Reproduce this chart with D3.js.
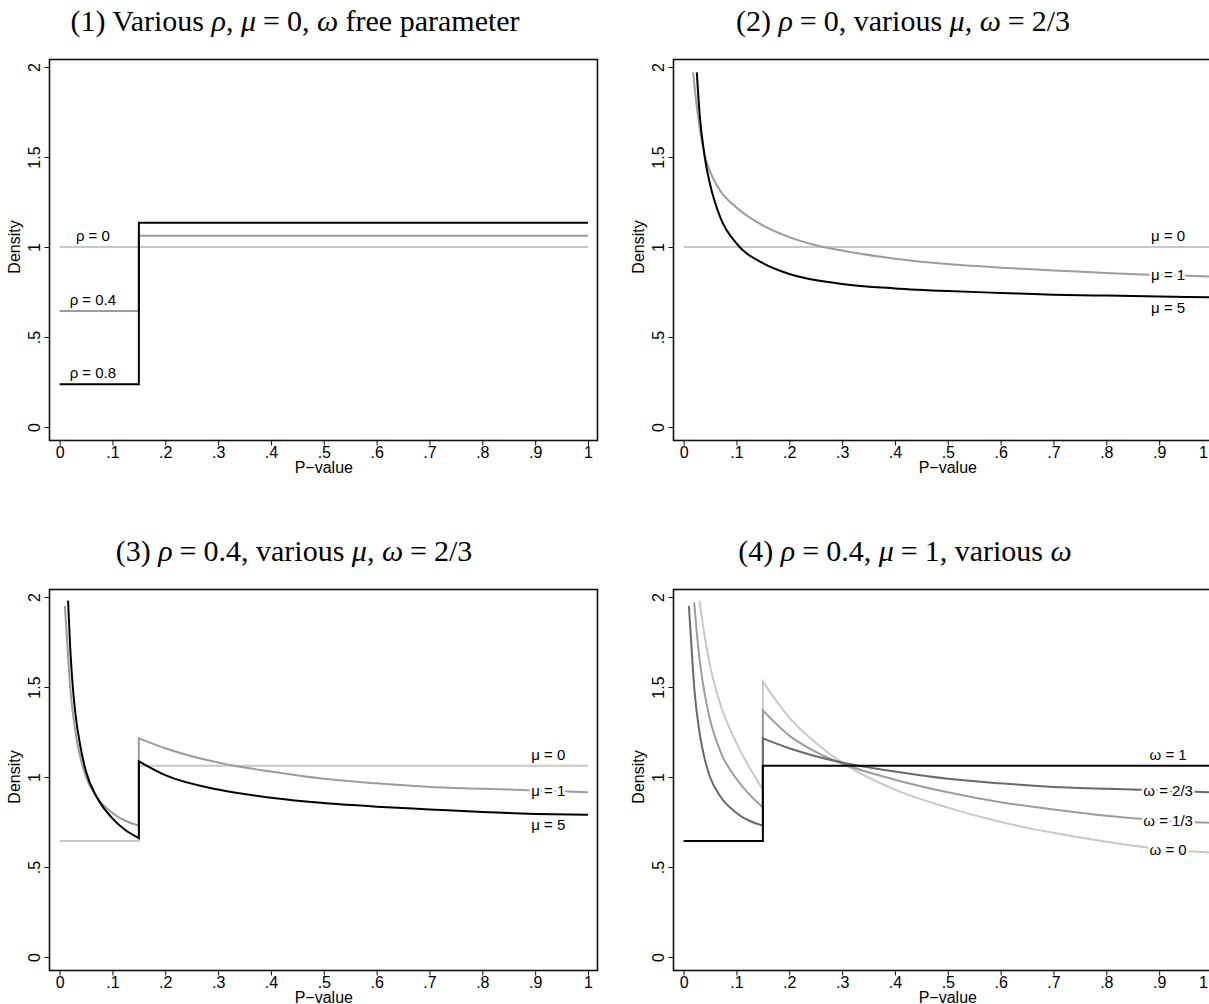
<!DOCTYPE html>
<html>
<head>
<meta charset="utf-8">
<script src="https://cdn.jsdelivr.net/npm/d3@7"></script>
<style>
  body { margin: 0; background: #fff; }
  svg { display: block; }
  .title { font-family: "Liberation Serif", "DejaVu Serif", serif; font-size: 26px; }
  .tick-label, .axis-title { font-family: "Liberation Sans", Arial, sans-serif; font-size: 16px; fill: #000; }
  .curve-label { font-family: "Liberation Sans", Arial, sans-serif; font-size: 15px; fill: #000; }
</style>
</head>
<body>
<div id="chart"></div>
<script>
// ---- axis ticks ----
const xTicks = [0, 0.1, 0.2, 0.3, 0.4, 0.5, 0.6, 0.7, 0.8, 0.9, 1];
const xTickLabels = ["0", ".1", ".2", ".3", ".4", ".5", ".6", ".7", ".8", ".9", "1"];
const yTicks = [0, 0.5, 1, 1.5, 2];
const yTickLabels = ["0", ".5", "1", "1.5", "2"];

// ---- panel 1: various rho, mu = 0 ----
const p1Rho0 = [[0, 1], [1, 1]];
const p1Rho04 = [[0, 0.644], [0.15, 0.644], [0.15, 1.063], [1, 1.063]];
const p1Rho08 = [[0, 0.237], [0.15, 0.237], [0.15, 1.135], [1, 1.135]];

// ---- panel 2: rho = 0, various mu ----
const p2Mu0 = [[0, 1], [1, 1]];
const p2Mu1 = [[0.018, 1.97], [0.025, 1.78], [0.03, 1.67], [0.04, 1.51], [0.05, 1.42], [0.07, 1.31],
  [0.1, 1.22], [0.15, 1.12], [0.2, 1.055], [0.25, 1.01], [0.3, 0.98], [0.4, 0.935], [0.5, 0.905],
  [0.6, 0.885], [0.7, 0.87], [0.8, 0.855], [0.9, 0.845], [1, 0.835]];
const p2Mu5 = [[0.025, 1.97], [0.03, 1.75], [0.04, 1.50], [0.05, 1.35], [0.07, 1.16], [0.1, 1.02],
  [0.15, 0.91], [0.2, 0.85], [0.3, 0.795], [0.4, 0.77], [0.5, 0.755], [0.6, 0.745], [0.7, 0.735],
  [0.8, 0.73], [0.9, 0.725], [1, 0.72]];

// ---- panel 3: rho = 0.4, various mu ----
const p3Mu0 = [[0, 0.644], [0.15, 0.644], [0.15, 1.063], [1, 1.063]];
const p3Mu1 = [[0.01, 1.95], [0.015, 1.72], [0.02, 1.50], [0.03, 1.25], [0.04, 1.10], [0.05, 1.00],
  [0.07, 0.89], [0.1, 0.80], [0.15, 0.73], [0.15, 1.215], [0.2, 1.16], [0.3, 1.08], [0.4, 1.03],
  [0.5, 0.99], [0.6, 0.965], [0.7, 0.945], [0.8, 0.935], [0.9, 0.925], [1, 0.915]];
const p3Mu5 = [[0.016, 1.98], [0.02, 1.72], [0.025, 1.50], [0.03, 1.35], [0.04, 1.16], [0.05, 1.03],
  [0.07, 0.89], [0.1, 0.77], [0.15, 0.66], [0.15, 1.087], [0.2, 1.01], [0.3, 0.93], [0.4, 0.885],
  [0.5, 0.855], [0.6, 0.835], [0.7, 0.82], [0.8, 0.805], [0.9, 0.795], [1, 0.79]];

// ---- panel 4: rho = 0.4, mu = 1, various omega ----
const p4Om1 = [[0, 0.644], [0.15, 0.644], [0.15, 1.063], [1, 1.063]];
const p4Om23 = [[0.01, 1.95], [0.015, 1.72], [0.02, 1.50], [0.03, 1.25], [0.04, 1.10], [0.05, 1.00],
  [0.07, 0.89], [0.1, 0.80], [0.15, 0.73], [0.15, 1.215], [0.2, 1.16], [0.3, 1.08], [0.4, 1.03],
  [0.5, 0.99], [0.6, 0.965], [0.7, 0.945], [0.8, 0.935], [0.9, 0.925], [1, 0.915]];
const p4Om13 = [[0.02, 1.97], [0.025, 1.80], [0.03, 1.66], [0.04, 1.46], [0.05, 1.32], [0.07, 1.14],
  [0.1, 0.99], [0.15, 0.83], [0.15, 1.37], [0.2, 1.23], [0.25, 1.14], [0.3, 1.075], [0.4, 0.985],
  [0.5, 0.915], [0.6, 0.86], [0.7, 0.82], [0.8, 0.785], [0.9, 0.76], [1, 0.745]];
const p4Om0 = [[0.03, 1.98], [0.04, 1.78], [0.05, 1.62], [0.07, 1.40], [0.1, 1.19], [0.15, 0.93],
  [0.15, 1.53], [0.2, 1.33], [0.25, 1.19], [0.3, 1.08], [0.4, 0.93], [0.5, 0.83], [0.6, 0.75],
  [0.7, 0.69], [0.8, 0.64], [0.9, 0.60], [1, 0.58]];

const LIGHT = "#c8c8c8", MID = "#9c9c9c", DARK = "#6a6a6a", BLACK = "#000";

// title pieces: [text, italic?]; "=" gets extra math spacing
const panels = [
  {
    ox: 0, oy: 0, titleX: 295, titleW: 464,
    title: [["(1) Various ", 0], ["ρ", 1], [", ", 0], ["μ", 1], ["=", 0], ["0, ", 0], ["ω", 1], [" free parameter", 0]],
    series: [
      { data: p1Rho0, color: LIGHT, label: "ρ = 0", lx: 0.063, ly: 1.0, pos: "above" },
      { data: p1Rho04, color: MID, label: "ρ = 0.4", lx: 0.063, ly: 0.644, pos: "above" },
      { data: p1Rho08, color: BLACK, label: "ρ = 0.8", lx: 0.063, ly: 0.237, pos: "above" }
    ]
  },
  {
    ox: 624, oy: 0, titleX: 903, titleW: 393,
    title: [["(2) ", 0], ["ρ", 1], ["=", 0], ["0, various ", 0], ["μ", 1], [", ", 0], ["ω", 1], ["=", 0], ["2/3", 0]],
    series: [
      { data: p2Mu0, color: LIGHT, label: "μ = 0", lx: 0.917, ly: 1.0, pos: "above" },
      { data: p2Mu1, color: MID, label: "μ = 1", lx: 0.917, ly: null, pos: "on" },
      { data: p2Mu5, color: BLACK, label: "μ = 5", lx: 0.917, ly: null, pos: "below" }
    ]
  },
  {
    ox: 0, oy: 530, titleX: 294, titleW: 352,
    title: [["(3) ", 0], ["ρ", 1], ["=", 0], ["0.4, various ", 0], ["μ", 1], [", ", 0], ["ω", 1], ["=", 0], ["2/3", 0]],
    series: [
      { data: p3Mu0, color: LIGHT, label: "μ = 0", lx: 0.925, ly: null, pos: "above" },
      { data: p3Mu1, color: MID, label: "μ = 1", lx: 0.925, ly: null, pos: "on" },
      { data: p3Mu5, color: BLACK, label: "μ = 5", lx: 0.925, ly: null, pos: "below" }
    ]
  },
  {
    ox: 624, oy: 530, titleX: 905, titleW: 315,
    title: [["(4) ", 0], ["ρ", 1], ["=", 0], ["0.4, ", 0], ["μ", 1], ["=", 0], ["1, various ", 0], ["ω", 1]],
    series: [
      { data: p4Om0, color: LIGHT, label: "ω = 0", lx: 0.917, ly: null, pos: "on" },
      { data: p4Om13, color: MID, label: "ω = 1/3", lx: 0.917, ly: null, pos: "on" },
      { data: p4Om23, color: DARK, label: "ω = 2/3", lx: 0.917, ly: null, pos: "on" },
      { data: p4Om1, color: BLACK, label: "ω = 1", lx: 0.917, ly: null, pos: "above" }
    ]
  }
];

const svg = d3.select("#chart").append("svg")
  .attr("width", 1209)
  .attr("height", 1004);

// value of a piecewise series at x (used only to place labels next to their line)
function valueAt(data, x) {
  for (let i = data.length - 1; i > 0; i--) {
    const a = data[i - 1], b = data[i];
    if (x >= a[0] && x <= b[0] && b[0] > a[0]) {
      return a[1] + (b[1] - a[1]) * (x - a[0]) / (b[0] - a[0]);
    }
  }
  return data[data.length - 1][1];
}

function drawPanel(p) {
  const frame = { x: p.ox + 49.5, y: p.oy + 59.5, w: 548, h: 381 };

  const x = d3.scaleLinear().domain([0, 1]).range([p.ox + 59.6, p.ox + 588]);
  const y = d3.scaleLinear().domain([0, 2]).range([p.oy + 427, p.oy + 67]);

  const g = svg.append("g");

  // title with italic greek letters and math spacing round "="
  const t = g.append("text")
    .attr("class", "title")
    .attr("x", p.titleX)
    .attr("y", p.oy + 31)
    .attr("text-anchor", "middle");
  let prevEq = false;
  p.title.forEach(([s, it]) => {
    const ts = t.append("tspan").attr("font-style", it ? "italic" : "normal").text(s);
    if (s === "=" || prevEq) ts.attr("dx", 7);
    prevEq = s === "=";
  });
  // grow the font until the title is as wide as in the reference
  const natural = t.node().getComputedTextLength();
  const fs = Math.min(30, 26 * p.titleW / natural);
  t.style("font-size", fs + "px");

  // curves, each split into pieces at the vertical jump
  const line = d3.line()
    .x(d => x(d[0]))
    .y(d => y(d[1]))
    .curve(d3.curveMonotoneX);

  const clipId = "clip" + p.ox + "_" + p.oy;
  svg.append("clipPath").attr("id", clipId)
    .append("rect")
    .attr("x", frame.x).attr("y", frame.y).attr("width", frame.w).attr("height", frame.h);

  const curves = g.append("g").attr("clip-path", `url(#${clipId})`);

  p.series.forEach(s => {
    const pieces = [[s.data[0]]];
    for (let i = 1; i < s.data.length; i++) {
      if (s.data[i][0] === s.data[i - 1][0]) pieces.push([]);
      pieces[pieces.length - 1].push(s.data[i]);
    }
    let path = "";
    pieces.forEach((pc, i) => {
      const seg = pc.length > 1 ? line(pc) : `M${x(pc[0][0])},${y(pc[0][1])}`;
      path += i === 0 ? seg : "L" + seg.slice(1);
    });
    curves.append("path")
      .attr("d", path)
      .attr("fill", "none")
      .attr("stroke", s.color)
      .attr("stroke-width", 2);
  });

  // curve labels
  p.series.forEach(s => {
    const v = s.ly !== null ? s.ly : valueAt(s.data, s.lx);
    const px = x(s.lx), py = y(v);
    const dy = s.pos === "above" ? -6 : s.pos === "below" ? 16 : 5;
    g.append("text")
      .attr("class", "curve-label")
      .attr("x", px)
      .attr("y", py + dy)
      .attr("text-anchor", "middle")
      .attr("stroke", s.pos === "on" ? "#fff" : "none")
      .attr("stroke-width", 5)
      .attr("paint-order", "stroke")
      .text(s.label);
  });

  // frame
  g.append("rect")
    .attr("x", frame.x).attr("y", frame.y)
    .attr("width", frame.w).attr("height", frame.h)
    .attr("fill", "none")
    .attr("stroke", "#111")
    .attr("stroke-width", 1.6);

  // x axis
  const xAxis = d3.axisBottom(x).tickValues(xTicks).tickSize(5)
    .tickFormat((d, i) => xTickLabels[i]);
  const xg = g.append("g")
    .attr("transform", `translate(0,${frame.y + frame.h})`)
    .call(xAxis);
  xg.select(".domain").remove();
  xg.selectAll("text").attr("class", "tick-label").attr("dy", null).attr("y", 17);
  xg.selectAll("line").attr("stroke", "#111");
  // keep the last label inside the page when the panel runs past the edge
  xg.selectAll("text").each(function () {
    const b = this.getBBox();
    const ctm = this.getCTM();
    const right = ctm.e + b.x + b.width;
    if (right > 1208) d3.select(this).attr("x", 1208 - right);
  });

  g.append("text")
    .attr("class", "axis-title")
    .attr("x", (x(0) + x(1)) / 2)
    .attr("y", frame.y + frame.h + 32)
    .attr("text-anchor", "middle")
    .text("P−value");

  // y axis
  const yAxis = d3.axisLeft(y).tickValues(yTicks).tickSize(5)
    .tickFormat((d, i) => yTickLabels[i]);
  const yg = g.append("g")
    .attr("transform", `translate(${frame.x},0)`)
    .call(yAxis);
  yg.select(".domain").remove();
  yg.selectAll("line").attr("stroke", "#111");
  yg.selectAll("text")
    .attr("class", "tick-label")
    .attr("x", null).attr("dy", null)
    .attr("text-anchor", "middle")
    .attr("transform", "translate(-10,0) rotate(-90)")
    .attr("y", 0);

  g.append("text")
    .attr("class", "axis-title")
    .attr("transform", `translate(${p.ox + 20},${(y(0) + y(2)) / 2}) rotate(-90)`)
    .attr("text-anchor", "middle")
    .text("Density");
}

panels.forEach(drawPanel);
</script>
</body>
</html>
